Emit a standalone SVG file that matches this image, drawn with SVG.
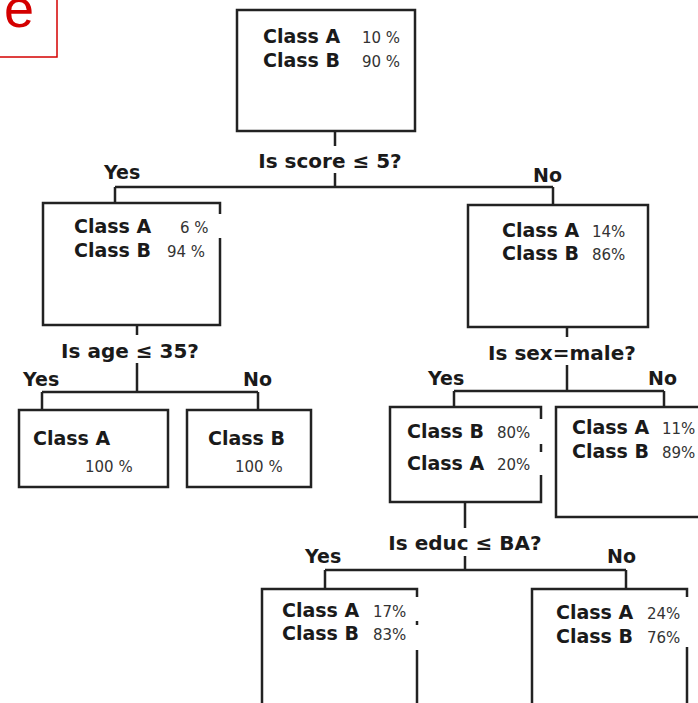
<svg xmlns="http://www.w3.org/2000/svg" width="698" height="703" viewBox="0 0 698 703">
<style>
.box{fill:#fff;stroke:#222;stroke-width:2.5}
.edge{fill:none;stroke:#222;stroke-width:2.5}
.gap{stroke:#fff;stroke-width:4}
.cls{font-family:"DejaVu Sans",sans-serif;font-weight:bold;font-size:19px;fill:#1a1a1a}
.q{font-family:"DejaVu Sans",sans-serif;font-weight:bold;font-size:20px;fill:#1a1a1a}
.pct{font-family:"DejaVu Sans",sans-serif;font-size:15px;fill:#333}
</style>
<rect width="698" height="703" fill="#fff"/>
<g id="corner">
<rect x="-5" y="-5" width="62" height="62" fill="#fff" stroke="#d40000" stroke-width="1.5"/>
<text x="4" y="27" font-family="Liberation Sans,sans-serif" font-size="54" fill="#d40000">e</text>
</g>
<g id="connectors">
<path class="edge" d="M335 131V146M335 173V187M115 187H553M115 187V203M553 187V205"/>
<path class="edge" d="M137 325V335M137 363V392M42 392H258M42 392V410M258 392V410"/>
<path class="edge" d="M567 327V337M567 365V391M454 391H664M454 391V407M664 391V407"/>
<path class="edge" d="M465 502V528M465 556V570M325 570H626M325 570V589M626 570V589"/>
</g>
<g id="root">
<rect class="box" x="237" y="10" width="178" height="121"/>
<text class="cls" x="263" y="43">Class A</text><text class="pct" x="362" y="43">10 %</text>
<text class="cls" x="263" y="67">Class B</text><text class="pct" x="362" y="67">90 %</text>
</g>
<g id="q1"><text class="q" x="330" y="168" text-anchor="middle">Is score ≤ 5?</text>
<text class="cls" x="104" y="179">Yes</text><text class="cls" x="533" y="182">No</text></g>
<g id="n_left">
<rect class="box" x="43" y="203" width="177" height="122"/>
<line class="gap" x1="220" y1="214" x2="220" y2="238"/>
<text class="cls" x="74" y="233">Class A</text><text class="pct" x="180" y="233">6 %</text>
<text class="cls" x="74" y="257">Class B</text><text class="pct" x="167" y="257">94 %</text>
</g>
<g id="q2"><text class="q" x="130" y="358" text-anchor="middle">Is age ≤ 35?</text>
<text class="cls" x="23" y="386">Yes</text><text class="cls" x="243" y="386">No</text></g>
<g id="leaf_a">
<rect class="box" x="19" y="410" width="149" height="77"/>
<text class="cls" x="33" y="445">Class A</text><text class="pct" x="85" y="472">100 %</text>
</g>
<g id="leaf_b">
<rect class="box" x="187" y="410" width="124" height="77"/>
<text class="cls" x="208" y="445">Class B</text><text class="pct" x="235" y="472">100 %</text>
</g>
<g id="n_right">
<rect class="box" x="468" y="205" width="180" height="122"/>
<text class="cls" x="502" y="237">Class A</text><text class="pct" x="592" y="237">14%</text>
<text class="cls" x="502" y="260">Class B</text><text class="pct" x="592" y="260">86%</text>
</g>
<g id="q3"><text class="q" x="562" y="360" text-anchor="middle">Is sex=male?</text>
<text class="cls" x="428" y="385">Yes</text><text class="cls" x="648" y="385">No</text></g>
<g id="n_male">
<rect class="box" x="390" y="407" width="151" height="95"/>
<line class="gap" x1="541" y1="419" x2="541" y2="444"/>
<line class="gap" x1="541" y1="452" x2="541" y2="475"/>
<text class="cls" x="407" y="438">Class B</text><text class="pct" x="497" y="438">80%</text>
<text class="cls" x="407" y="470">Class A</text><text class="pct" x="497" y="470">20%</text>
</g>
<g id="n_female">
<rect class="box" x="556" y="407" width="160" height="110"/>
<text class="cls" x="572" y="434">Class A</text><text class="pct" x="662" y="434">11%</text>
<text class="cls" x="572" y="458">Class B</text><text class="pct" x="662" y="458">89%</text>
</g>
<g id="q4"><text class="q" x="465" y="550" text-anchor="middle">Is educ ≤ BA?</text>
<text class="cls" x="305" y="563">Yes</text><text class="cls" x="607" y="563">No</text></g>
<g id="n_educ_yes">
<rect class="box" x="262" y="589" width="155" height="130"/>
<line class="gap" x1="417" y1="597" x2="417" y2="621"/>
<line class="gap" x1="417" y1="625" x2="417" y2="650"/>
<text class="cls" x="282" y="617">Class A</text><text class="pct" x="373" y="617">17%</text>
<text class="cls" x="282" y="640">Class B</text><text class="pct" x="373" y="640">83%</text>
</g>
<g id="n_educ_no">
<rect class="box" x="532" y="589" width="155" height="130"/>
<line class="gap" x1="687" y1="597" x2="687" y2="647"/>
<text class="cls" x="556" y="619">Class A</text><text class="pct" x="647" y="619">24%</text>
<text class="cls" x="556" y="643">Class B</text><text class="pct" x="647" y="643">76%</text>
</g>
</svg>
